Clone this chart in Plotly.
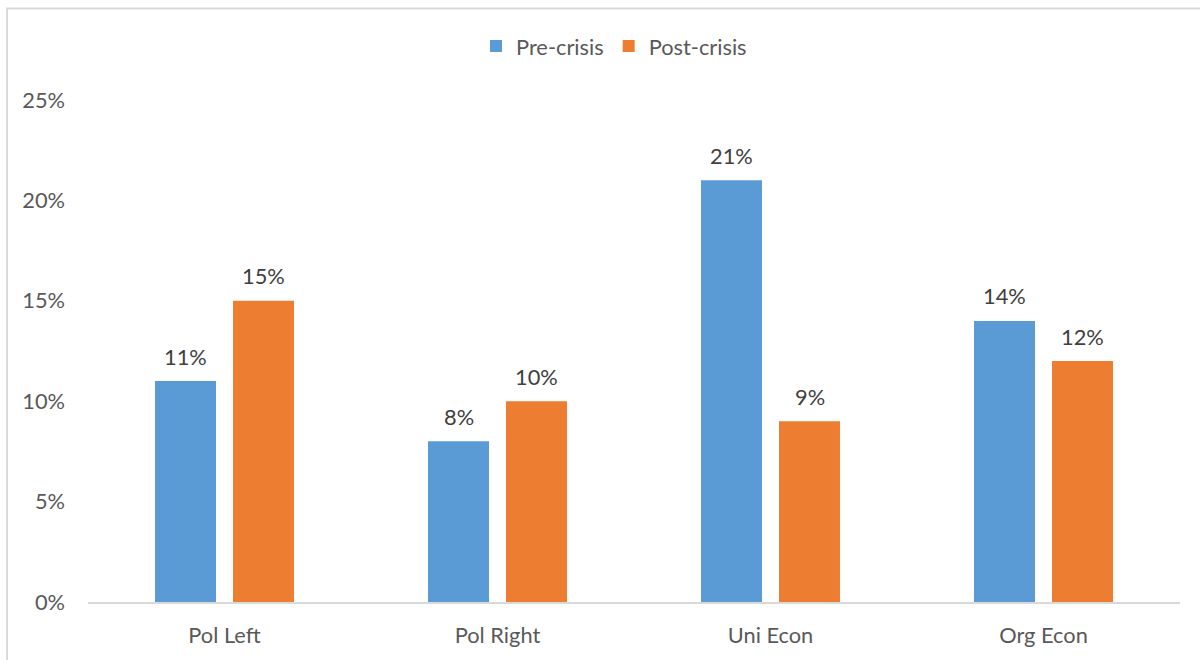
import plotly.graph_objects as go

categories = ["Pol Left", "Pol Right", "Uni Econ", "Org Econ"]
pre_crisis = [0.11, 0.08, 0.21, 0.14]
post_crisis = [0.15, 0.10, 0.09, 0.12]
y_ticks = [0, 0.05, 0.10, 0.15, 0.20, 0.25]
y_tick_labels = ["0%", "5%", "10%", "15%", "20%", "25%"]

BLUE = "#5B9BD5"
ORANGE = "#ED7D31"
TXT = "#595959"
FONT = "Lato"
FS = 21.8

L, R, T, B = 88, 20, 100, 55
W, H = 1200, 660
pw = W - L - R
ph = H - T - B

fig = go.Figure()
fig.add_trace(go.Bar(x=categories, y=pre_crisis, name="Pre-crisis", marker=dict(color=BLUE, line=dict(width=0))))
fig.add_trace(go.Bar(x=categories, y=post_crisis, name="Post-crisis", marker=dict(color=ORANGE, line=dict(width=0))))

annotations = []
for vals, shift in ((pre_crisis, -39), (post_crisis, 39)):
    for c, v in zip(categories, vals):
        annotations.append(dict(x=c, y=v, xref="x", yref="y", text=f"{round(v*100)}%",
                                showarrow=False, xshift=shift, yshift=25,
                                font=dict(family=FONT, size=FS, color="#404040")))

def px_x(p):
    return (p - L) / pw

def px_y(p):
    return (H - B - p) / ph

fig.update_layout(
    width=W, height=H,
    margin=dict(l=L, r=R, t=T, b=B),
    paper_bgcolor="white", plot_bgcolor="white",
    barmode="group", bargap=0.4286, bargroupgap=0.218,
    font=dict(family=FONT, size=FS, color=TXT),
    showlegend=True,
    legend=dict(orientation="h", x=px_x(614), xanchor="center", y=px_y(46), yanchor="middle",
                font=dict(family=FONT, size=FS, color=TXT), traceorder="normal",
                itemsizing="constant", bgcolor="rgba(0,0,0,0)"),
    xaxis=dict(showgrid=False, showline=True, linecolor="#D9D9D9", linewidth=1.5,
               ticks="", ticklabelstandoff=13, tickfont=dict(family=FONT, size=FS, color=TXT),
               zeroline=False),
    yaxis=dict(range=[0, 0.25], tickvals=y_ticks, ticktext=y_tick_labels, showgrid=False,
               showline=False, zeroline=False, ticks="", ticklabelstandoff=22,
               tickfont=dict(family=FONT, size=FS, color=TXT)),
    annotations=annotations,
    shapes=[dict(type="rect", xref="paper", yref="paper",
                 x0=px_x(7), x1=px_x(1210), y0=px_y(670), y1=px_y(8),
                 line=dict(color="#D9D9D9", width=2), fillcolor="rgba(0,0,0,0)", layer="below")],
)

fig.write_html("out.html")
